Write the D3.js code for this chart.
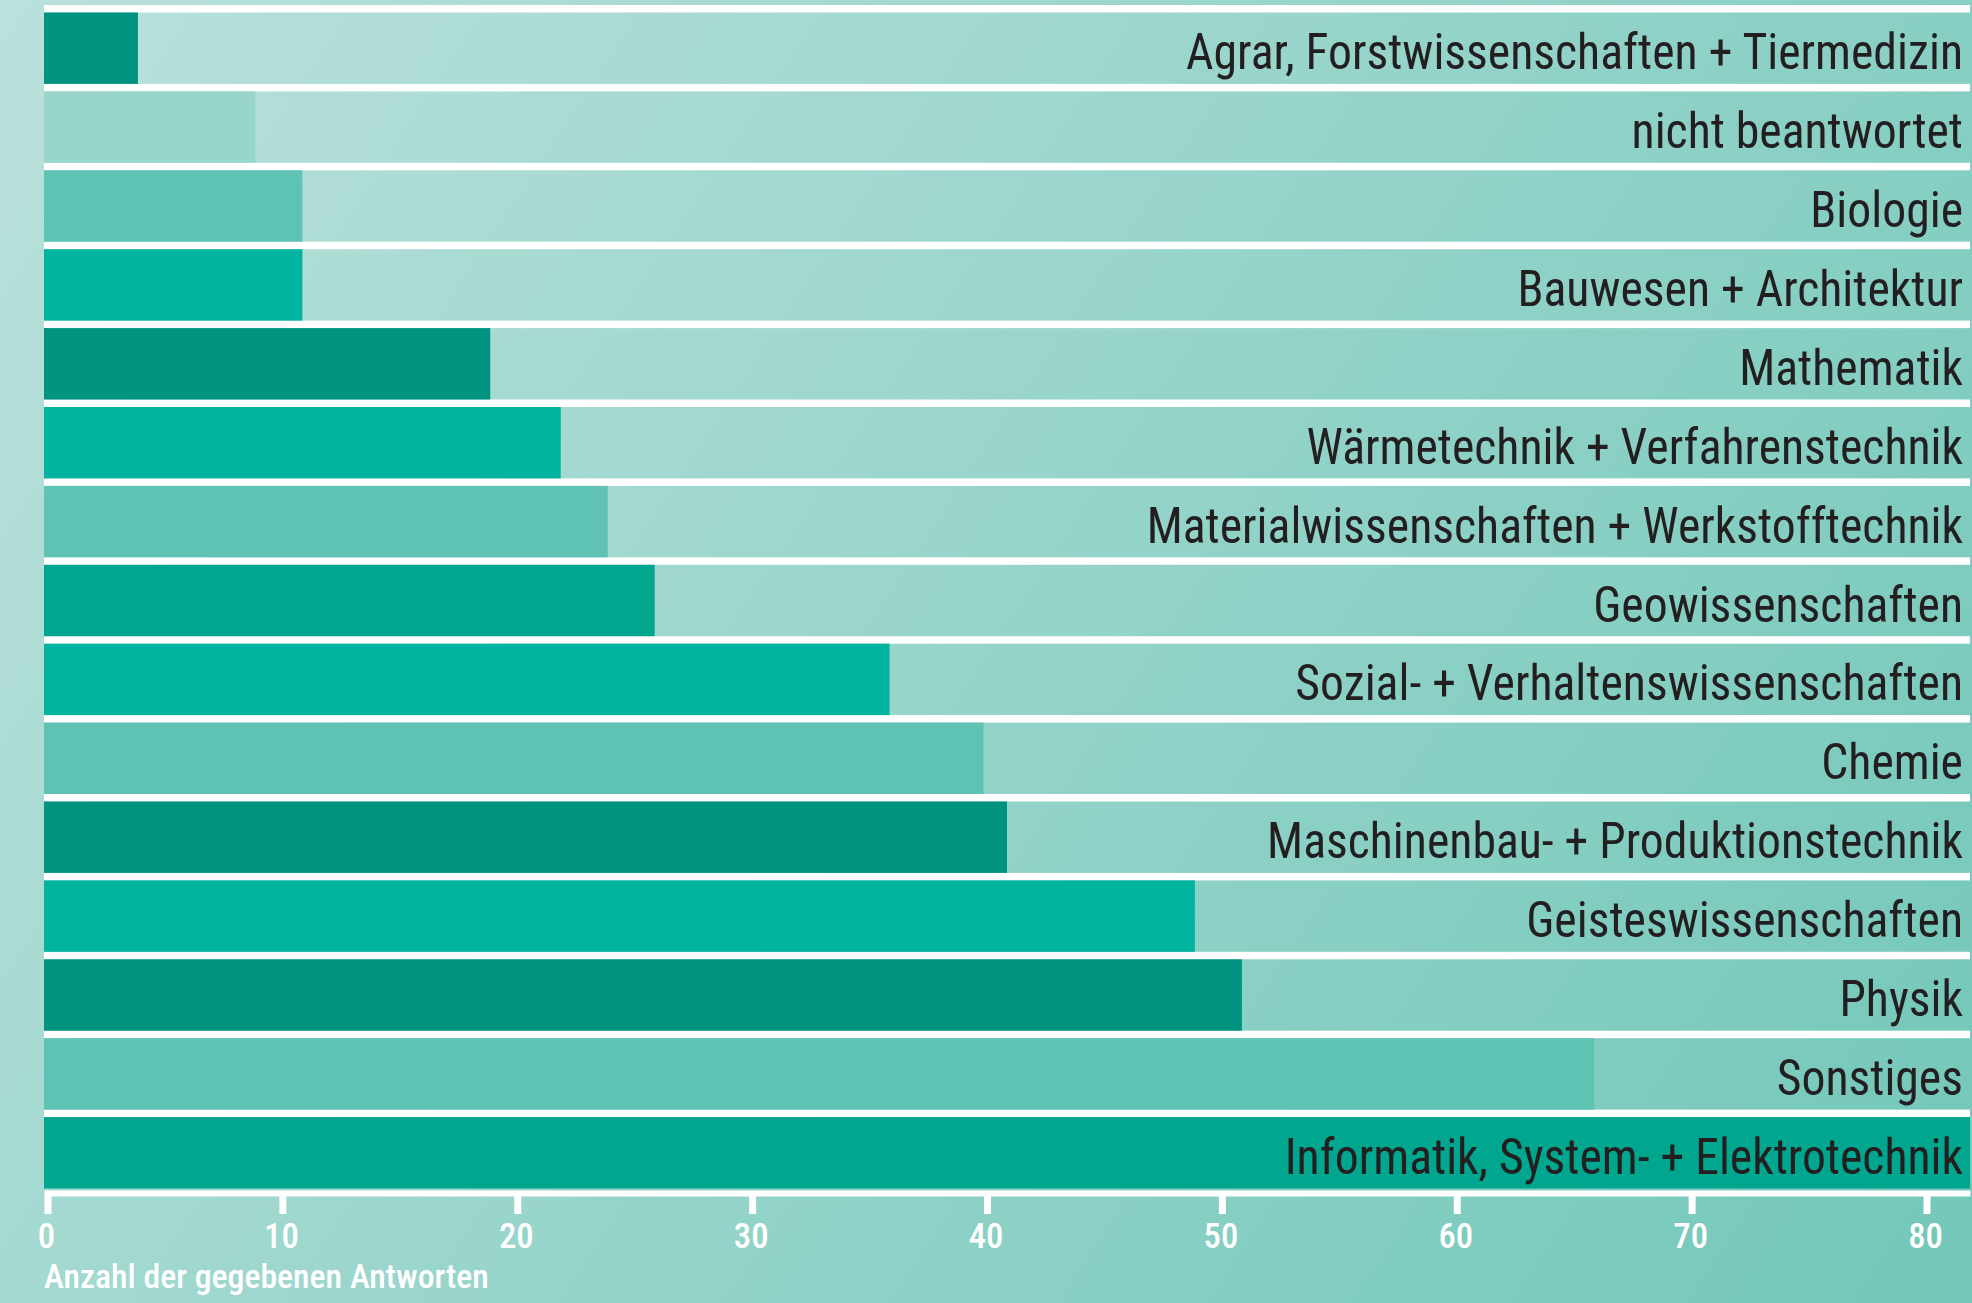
<!DOCTYPE html>
<html>
<head>
<meta charset="utf-8">
<script src="https://cdn.jsdelivr.net/npm/d3@7"></script>
<style>
  html, body { margin: 0; padding: 0; }
  svg { display: block; }
</style>
</head>
<body>
<div id="chart"></div>
<script>
const categories = [
  "Agrar, Forstwissenschaften + Tiermedizin",
  "nicht beantwortet",
  "Biologie",
  "Bauwesen + Architektur",
  "Mathematik",
  "Wärmetechnik + Verfahrenstechnik",
  "Materialwissenschaften + Werkstofftechnik",
  "Geowissenschaften",
  "Sozial- + Verhaltenswissenschaften",
  "Chemie",
  "Maschinenbau- + Produktionstechnik",
  "Geisteswissenschaften",
  "Physik",
  "Sonstiges",
  "Informatik, System- + Elektrotechnik"
]
const values = [4, 9, 11, 11, 19, 22, 24, 26, 36, 40, 41, 49, 51, 66, 82]
const barColors = [
  "#00937f", "#98d5ca", "#5fc3b4", "#00b49f", "#00937f",
  "#00b49f", "#5fc3b4", "#00a68e", "#00b49f", "#5fc3b4",
  "#00937f", "#00b49f", "#00937f", "#5fc3b4", "#00a68e"
]
const tickValues = [0, 10, 20, 30, 40, 50, 60, 70, 80]
const axisTitle = "Anzahl der gegebenen Antworten"

const data = categories.map((c, i) => ({ cat: c, value: values[i], color: barColors[i] }))

const width = 1972
const height = 1303
const gap = 7.5

const svg = d3.select("#chart")
  .append("svg")
  .attr("width", width)
  .attr("height", height)

// background gradient
const grad = svg.append("defs").append("linearGradient")
  .attr("id", "bg")
  .attr("gradientUnits", "userSpaceOnUse")
  .attr("x1", 0).attr("y1", 0)
  .attr("x2", width).attr("y2", height)
grad.append("stop").attr("offset", "0%").attr("stop-color", "#bae1db")
grad.append("stop").attr("offset", "100%").attr("stop-color", "#72c7b9")

svg.append("rect")
  .attr("width", width)
  .attr("height", height)
  .attr("fill", "url(#bg)")

const x = d3.scaleLinear()
  .domain([0, 82])
  .range([44, 1970])

const y = d3.scaleBand()
  .domain(categories)
  .range([5, 1188.5])

// white separators above each row
svg.append("g")
  .selectAll("rect")
  .data(data)
  .join("rect")
  .attr("x", x(0))
  .attr("y", d => y(d.cat))
  .attr("width", x.range()[1] - x(0))
  .attr("height", gap)
  .attr("fill", "white")

// bars
svg.append("g")
  .selectAll("rect")
  .data(data)
  .join("rect")
  .attr("x", x(0))
  .attr("y", d => y(d.cat) + gap)
  .attr("width", d => x(d.value) - x(0))
  .attr("height", y.bandwidth() - gap)
  .attr("fill", d => d.color)

// category labels (condensed look)
const labels = svg.append("g")
  .selectAll("text")
  .data(data)
  .join("text")
  .attr("text-anchor", "end")
  .style("font-family", "'Roboto Condensed', Roboto, sans-serif")
  .style("font-size", "49px")
  .style("fill", "#231f20")
  .text(d => d.cat)

const firstLen = labels.node().getComputedTextLength()
const sx = 777 / firstLen
labels.attr("transform", d =>
  `translate(1963, ${y(d.cat) + gap + (y.bandwidth() - gap) / 2 + 21}) scale(${sx}, 1)`)

// x axis
const axisY = 1193
const axis = svg.append("g")
  .attr("transform", `translate(0, ${axisY})`)
  .call(d3.axisBottom(x).tickValues(tickValues).tickSizeOuter(0).tickSizeInner(21))

axis.select(".domain")
  .attr("stroke", "white")
  .attr("stroke-width", 6)

axis.selectAll(".tick line")
  .attr("stroke", "white")
  .attr("stroke-width", 7)
  .attr("x1", 3.5).attr("x2", 3.5)
  .attr("y1", 3)

const tickText = axis.selectAll(".tick text")
  .attr("fill", "white")
  .attr("dy", null)
  .attr("y", 55)
  .style("font-family", "'Roboto Condensed', Roboto, sans-serif")
  .style("font-size", "35px")
  .style("font-weight", 500)

// axis title
const title = svg.append("text")
  .attr("text-anchor", "start")
  .style("font-family", "'Roboto Condensed', Roboto, sans-serif")
  .style("font-size", "34px")
  .style("font-weight", 500)
  .style("fill", "white")
  .text(axisTitle)

const tsx = 445 / title.node().getComputedTextLength()
title.attr("transform", `translate(44, 1288) scale(${tsx}, 1)`)
tickText.attr("transform", `scale(${tsx}, 1)`)
  .attr("x", 2 / tsx)
</script>
</body>
</html>
